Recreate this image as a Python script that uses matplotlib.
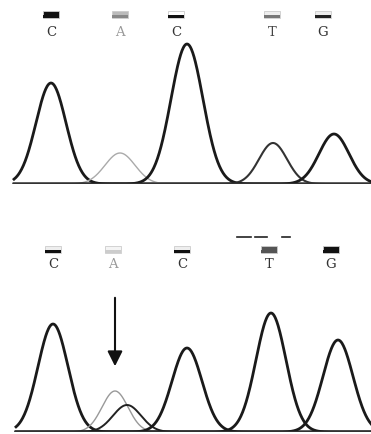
import numpy as np
import matplotlib.pyplot as plt
from matplotlib.patches import Rectangle

# --- top trace (reference sequence) ---
top_bases = ["C", "A", "C", "T", "G"]
top_label_x = [51, 120, 176, 272, 323]
top_base_colors = ["#333333", "#999999", "#333333", "#444444", "#333333"]
top_box_fill = ["#111111", "#bbbbbb", "#ffffff", "#eeeeee", "#eeeeee"]
top_box_bar = ["#111111", "#888888", "#111111", "#777777", "#222222"]

top_peak_x = [51, 120, 187, 273, 334]
top_peak_h = [101, 31, 140, 41, 50]
top_peak_w = [15, 15, 16, 14, 15]
top_peak_col = ["#1a1a1a", "#aaaaaa", "#1a1a1a", "#333333", "#1a1a1a"]
top_peak_lw = [2.0, 1.0, 2.0, 1.5, 2.0]

# --- bottom trace (mutant) ---
bot_bases = ["C", "A", "C", "T", "G"]
bot_label_x = [53, 113, 182, 269, 331]
bot_base_colors = ["#333333", "#999999", "#333333", "#333333", "#333333"]
bot_box_fill = ["#eeeeee", "#f4f4f4", "#eeeeee", "#555555", "#111111"]
bot_box_bar = ["#111111", "#cccccc", "#111111", "#555555", "#111111"]

bot_peak_x = [53, 115, 127, 187, 271, 338]
bot_peak_h = [108, 41, 27, 84, 119, 92]
bot_peak_w = [15, 13, 14, 15, 15, 15]
bot_peak_col = ["#1a1a1a", "#999999", "#222222", "#1a1a1a", "#1a1a1a", "#1a1a1a"]
bot_peak_lw = [2.0, 1.0, 1.4, 2.0, 2.0, 2.0]

W, H = 371, 435
fig = plt.figure(figsize=(W / 100, H / 100), dpi=100)
fig.patch.set_facecolor("white")


def draw_panel(ax, x0, px, ph, pw, pc, plw, bases, lx, bcol, bfill, bbar, lab_y, box_y):
    x = np.linspace(x0, W, 800)
    for m, h, s, c, lw in zip(px, ph, pw, pc, plw):
        ax.plot(x, h * np.exp(-0.5 * ((x - m) / s) ** 2), color=c, lw=lw, zorder=3)
    ax.plot([x0, W], [0, 0], color="#333333", lw=1.6, zorder=4)
    for b, xx, c, f, bar in zip(bases, lx, bcol, bfill, bbar):
        ax.text(xx, lab_y, b, ha="center", va="center", color=c,
                fontsize=9.5, family="DejaVu Serif")
        ax.add_patch(Rectangle((xx - 8, box_y - 3.5), 16, 7, facecolor=f,
                               edgecolor="#cccccc", lw=0.6, zorder=2))
        ax.add_patch(Rectangle((xx - 8, box_y - 3.5), 16, 2.4, facecolor=bar,
                               edgecolor="none", zorder=2))
    ax.set_xlim(0, W)
    ax.axis("off")


ax1 = fig.add_axes([0, (H - 185) / H, 1, 185 / H])
ax1.set_ylim(0, 185)
draw_panel(ax1, 14, top_peak_x, top_peak_h, top_peak_w, top_peak_col, top_peak_lw,
           top_bases, top_label_x, top_base_colors, top_box_fill, top_box_bar, 152, 170)

ax2 = fig.add_axes([0, 2 / H, 1, 213 / H])
ax2.set_ylim(0, 213)
draw_panel(ax2, 16, bot_peak_x, bot_peak_h, bot_peak_w, bot_peak_col, bot_peak_lw,
           bot_bases, bot_label_x, bot_base_colors, bot_box_fill, bot_box_bar, 168, 183)

# dashes above T
for a, b in [(237, 251), (255, 267), (282, 290)]:
    ax2.plot([a, b], [195, 195], color="#222222", lw=1.2)

# arrow pointing at the A peak
ax2.annotate("", xy=(115, 63), xytext=(115, 137),
             arrowprops=dict(arrowstyle="-|>,head_width=0.45,head_length=0.9",
                             color="#111111", lw=1.5))

fig.savefig("out.png", dpi=100)
